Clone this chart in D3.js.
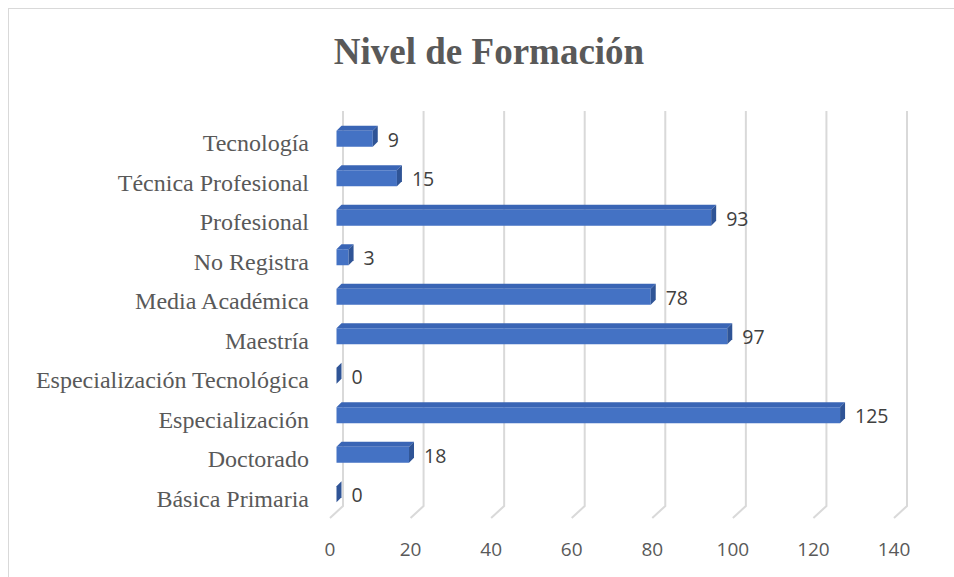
<!DOCTYPE html>
<html>
<head>
<meta charset="utf-8">
<script src="https://cdn.jsdelivr.net/npm/d3@7"></script>
<style>
  body { margin: 0; background: #fff; }
  svg { display: block; }
</style>
</head>
<body>
<svg id="chart" width="954" height="577"></svg>
<script>
// categories listed top to bottom, as in the chart
const categories = [
  'Tecnología', 'Técnica Profesional', 'Profesional', 'No Registra',
  'Media Académica', 'Maestría', 'Especialización Tecnológica',
  'Especialización', 'Doctorado', 'Básica Primaria'
];
const values = [9, 15, 93, 3, 78, 97, 0, 125, 18, 0];
const ticks = [0, 20, 40, 60, 80, 100, 120, 140];

const svg = d3.select('#chart');

// chart frame
svg.append('rect')
  .attr('x', 8.5).attr('y', 8.5)
  .attr('width', 954).attr('height', 577)
  .attr('fill', 'none').attr('stroke', '#d9d9d9').attr('stroke-width', 1);

svg.append('text')
  .attr('x', 489).attr('y', 64)
  .attr('text-anchor', 'middle')
  .attr('font-family', '"Liberation Serif", "Times New Roman", serif')
  .attr('font-weight', 'bold')
  .attr('font-size', 37)
  .attr('fill', '#595959')
  .text('Nivel de Formación');

// front plane scales
const x = d3.scaleLinear().domain([0, 140]).range([330, 894]);
const y = d3.scaleBand().domain(categories).range([123, 518]);

// 3d depth offsets
const back = { dx: 13, dy: -12 };
const mid = { dx: 6.5, dy: -6 };
const topY = 111;

// gridlines (back wall + floor edge)
svg.append('g').selectAll('path')
  .data(ticks)
  .join('path')
  .attr('d', t => {
    const xb = x(t) + back.dx, yb = 518 + back.dy;
    return `M${xb},${topY}L${xb},${yb}L${x(t)},518`;
  })
  .attr('fill', 'none')
  .attr('stroke', '#d9d9d9')
  .attr('stroke-width', 2);

// tick labels
svg.append('g').selectAll('text')
  .data(ticks)
  .join('text')
  .attr('x', d => x(d))
  .attr('y', 556)
  .attr('text-anchor', 'middle')
  .attr('font-family', '"Open Sans", "Noto Sans", sans-serif')
  .attr('font-size', 19)
  .attr('fill', '#595959')
  .text(d => d);

// category labels
svg.append('g').selectAll('text')
  .data(categories)
  .join('text')
  .attr('x', 309)
  .attr('y', d => y(d) + y.bandwidth() / 2)
  .attr('dy', '0.35em')
  .attr('text-anchor', 'end')
  .attr('font-family', '"Liberation Serif", "Times New Roman", serif')
  .attr('font-size', 24)
  .attr('fill', '#595959')
  .text(d => d);

// 3d bars
const barH = 16, dep = 5, depY = 5;
const rows = categories.map((c, i) => ({ c, v: values[i] }));
const bars = svg.append('g').selectAll('g')
  .data(rows)
  .join('g');

function geom(d) {
  const x0 = x(0) + mid.dx, x1 = x(d.v) + mid.dx;
  const cy = y(d.c) + y.bandwidth() / 2 + mid.dy + 2;
  return { x0, x1, y0: cy - barH / 2, y1: cy + barH / 2 };
}

// top face
bars.append('path')
  .attr('d', d => {
    const g = geom(d);
    return `M${g.x0},${g.y0}L${g.x1},${g.y0}L${g.x1 + dep},${g.y0 - depY}L${g.x0 + dep},${g.y0 - depY}Z`;
  })
  .attr('fill', '#3a65b5');

// front face
bars.append('rect')
  .attr('x', d => geom(d).x0)
  .attr('y', d => geom(d).y0)
  .attr('width', d => geom(d).x1 - geom(d).x0)
  .attr('height', barH)
  .attr('fill', '#4472c4');

// side face
bars.append('path')
  .attr('d', d => {
    const g = geom(d);
    return `M${g.x1},${g.y0}L${g.x1 + dep},${g.y0 - depY}L${g.x1 + dep},${g.y1 - depY}L${g.x1},${g.y1}Z`;
  })
  .attr('fill', '#2f5496');

// value labels
bars.append('text')
  .attr('x', d => geom(d).x1 + dep + 10)
  .attr('y', d => geom(d).y0 + barH / 2 + 1)
  .attr('dy', '0.35em')
  .attr('font-family', '"Open Sans", "Noto Sans", sans-serif')
  .attr('font-size', 19.5)
  .attr('fill', '#404040')
  .text(d => d.v);
</script>
</body>
</html>
